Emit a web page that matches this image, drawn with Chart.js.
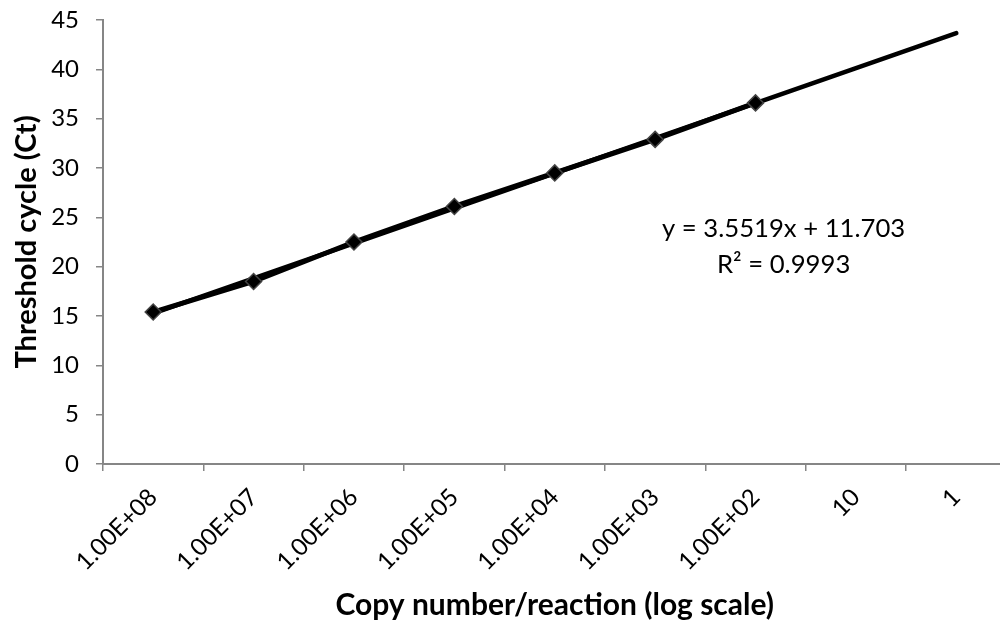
<!DOCTYPE html>
<html>
<head>
<meta charset="utf-8">
<script src="https://cdn.jsdelivr.net/npm/chart.js@4"></script>
<style>
  html, body { margin: 0; padding: 0; background: #fff; overflow: hidden; }
  #wrap { width: 1016px; height: 624px; }
</style>
</head>
<body>
<div id="wrap"><canvas id="ctChart"></canvas></div>
<script>
// categories on the x axis (copy number per reaction)
const copyLabels = ['1.00E+08', '1.00E+07', '1.00E+06', '1.00E+05', '1.00E+04', '1.00E+03', '1.00E+02', '10', '1'];
const ctValues = [15.4, 18.5, 22.5, 26.1, 29.5, 32.9, 36.6, null, null];
// linear trendline shown on the chart
const slope = 3.5519;
const intercept = 11.703;
const r2 = 0.9993;
const yTicks = [0, 5, 10, 15, 20, 25, 30, 35, 40, 45];

const trendValues = copyLabels.map((l, i) => (i === 0 || i === copyLabels.length - 1) ? slope * (i + 1) + intercept : null);

const FONT = 'Lato, "Open Sans", sans-serif';
const axisGray = '#868686';

const eqLabel = {
    id: 'eqLabel',
    afterDraw(chart) {
        const c = chart.ctx;
        const xs = chart.scales.x;
        const ys = chart.scales.y;
        const cx = xs.getPixelForValue(6.28);
        c.save();
        c.fillStyle = '#000';
        c.font = '25.7px ' + FONT;
        c.textAlign = 'center';
        c.textBaseline = 'middle';
        c.fillText('y = ' + slope + 'x + ' + intercept, cx, ys.getPixelForValue(23.8));
        c.fillText('R\u00b2 = ' + r2, cx, ys.getPixelForValue(20.2));
        c.restore();
    }
};

const ctx = document.getElementById('ctChart').getContext('2d');
const ctChart = new Chart(ctx, {
    type: 'line',
    data: {
        labels: copyLabels,
        datasets: [{
            label: 'Linear (Ct)',
            data: trendValues,
            borderColor: '#000',
            borderWidth: 4.5,
            pointRadius: 0,
            spanGaps: true,
            borderCapStyle: 'round',
            order: 2
        }, {
            label: 'Ct',
            data: ctValues,
            borderColor: '#000',
            borderWidth: 5,
            pointStyle: 'rectRot',
            pointRadius: 8,
            pointBackgroundColor: '#000',
            pointBorderColor: '#444',
            pointBorderWidth: 1.5,
            order: 1
        }]
    },
    options: {
        responsive: true,
        maintainAspectRatio: false,
        animation: false,
        layout: { padding: { top: 20, right: 2, left: 0, bottom: 0 } },
        plugins: {
            legend: { display: false },
            tooltip: { enabled: false }
        },
        scales: {
            x: {
                offset: true,
                afterFit(axis) {
                    axis.height = 160;
                    axis.paddingLeft = 0;
                    axis.paddingRight = 0;
                },
                grid: {
                    offset: true,
                    drawOnChartArea: false,
                    drawTicks: true,
                    tickLength: 7,
                    color: axisGray,
                    lineWidth: 1.5
                },
                border: { color: axisGray, width: 2 },
                ticks: {
                    color: '#000',
                    font: { family: FONT, size: 24 },
                    maxRotation: 45,
                    minRotation: 45,
                    autoSkip: false,
                    padding: 12
                },
                title: {
                    display: true,
                    text: 'Copy number/reaction (log scale)',
                    color: '#000',
                    font: { family: FONT, size: 30, weight: 'bold' },
                    padding: { top: 4, bottom: 1 }
                }
            },
            y: {
                min: 0,
                max: 45,
                afterFit(axis) {
                    axis.width = 103;
                    axis.paddingTop = 0;
                    axis.paddingBottom = 0;
                },
                afterBuildTicks(axis) {
                    axis.ticks = yTicks.map(v => ({ value: v }));
                },
                grid: {
                    drawOnChartArea: false,
                    drawTicks: true,
                    tickLength: 7,
                    color: axisGray,
                    lineWidth: 1.5
                },
                border: { color: axisGray, width: 2 },
                ticks: {
                    color: '#000',
                    font: { family: FONT, size: 24 },
                    padding: 17
                },
                title: {
                    display: true,
                    text: 'Threshold cycle (Ct)',
                    color: '#000',
                    font: { family: FONT, size: 29, weight: 'bold' },
                    padding: { top: 9, bottom: 0 }
                }
            }
        }
    },
    plugins: [eqLabel]
});
</script>
</body>
</html>
